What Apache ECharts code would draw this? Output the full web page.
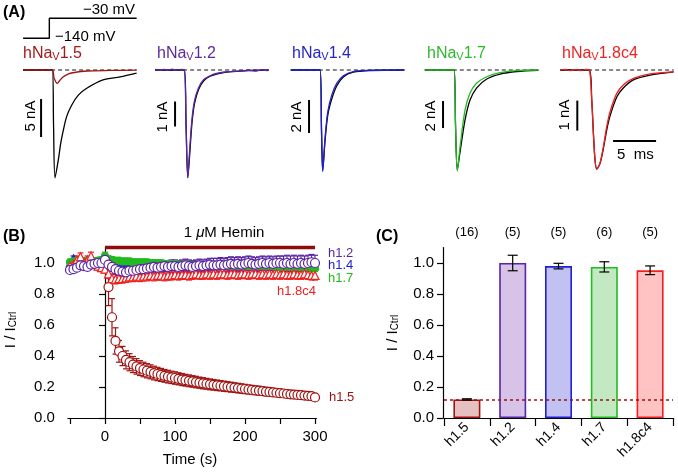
<!DOCTYPE html>
<html><head><meta charset="utf-8">
<script src="https://cdn.jsdelivr.net/npm/echarts@6/dist/echarts.min.js"></script>
<style>html,body{margin:0;padding:0;background:#fff}#c{width:678px;height:474px}</style>
</head><body><div id="c"></div>
<script>
// ================= DATA =================
// Panel A: voltage protocol (ms from step onset, mV)
const protocolTime = [-3.4, -0.35, -0.35, 9.8];
const protocolVoltage = [-140, -140, -30, -30];

// Panel A: current traces [time (ms from onset), current (nA)]
const nav15Ctrl  = [[-3.4,0],[0,0],[0.14,-7.2],[0.31,-14.2],[0.7,-11.8],[0.98,-9.6],[1.28,-7.9],[1.67,-6.1],[2.26,-4.6],[3.02,-3.3],[4.0,-2.4],[5.9,-1.3],[7.87,-0.9],[9.8,-0.4]];
const nav15Hemin = [[-3.4,0],[0,0],[0.2,-1.05],[0.58,-1.75],[0.9,-1.32],[1.28,-0.88],[1.83,-0.53],[2.41,-0.36],[4.03,-0.13],[6.7,-0.06],[9.8,-0.02]];
const nav12Ctrl  = [[-3.4,0],[0,0],[0.2,-2.2],[0.4,-4.3],[0.6,-3.5],[0.88,-2.15],[1.18,-1.35],[1.65,-0.78],[2.23,-0.44],[3.0,-0.25],[4.55,-0.1],[6.9,-0.03],[9.8,0]];
const nav12Hemin = [[-3.4,0.02],[-2.9,-0.01],[-2.4,0.02],[-1.9,0],[-1.4,0.03],[-0.9,-0.01],[-0.4,0.02],[0,0],[0.2,-2.2],[0.4,-4.31],[0.58,-3.4],[0.86,-2.07],[1.16,-1.27],[1.63,-0.73],[2.21,-0.4],[2.99,-0.23],[3.6,-0.15],[4.53,-0.09],[5.5,-0.06],[6.86,-0.03],[7.5,-0.01],[8.2,-0.04],[8.9,0.0],[9.8,-0.02]];
const nav14Ctrl  = [[-3.4,0],[0,0],[0.17,-3.6],[0.31,-6.1],[0.58,-4.3],[0.9,-2.73],[1.36,-1.76],[1.94,-0.97],[2.71,-0.42],[3.87,-0.13],[5.8,-0.03],[9.8,0]];
const nav14Hemin = [[-3.4,0],[0,0],[0.17,-3.64],[0.31,-6.16],[0.58,-4.14],[0.9,-2.53],[1.36,-1.52],[1.94,-0.81],[2.71,-0.35],[3.87,-0.1],[5.8,-0.02],[9.8,0]];
const nav17Ctrl  = [[-3.4,0],[0,0],[0.17,-4.0],[0.38,-7.4],[0.7,-6.07],[1.28,-3.7],[1.86,-2.22],[2.64,-1.33],[3.8,-0.67],[5.35,-0.3],[7.29,-0.11],[9.8,-0.02]];
const nav17Hemin = [[-3.4,0],[0,0],[0.17,-4.07],[0.38,-7.48],[0.7,-5.68],[1.28,-2.96],[1.86,-1.7],[2.64,-0.96],[3.8,-0.5],[5.35,-0.2],[7.29,-0.05],[9.8,0]];
const nav18Ctrl  = [[-3.4,0],[0,0],[0.28,-1.0],[0.47,-2.1],[0.66,-3.0],[0.86,-3.3],[1.24,-3.12],[1.63,-2.62],[2.02,-2.0],[2.41,-1.53],[3.19,-0.9],[3.95,-0.6],[5.12,-0.33],[7.06,-0.17],[9.8,-0.06]];
const nav18Hemin = [[-3.4,0],[-2.8,0.02],[-2.2,-0.02],[-1.6,0.01],[-1.0,-0.02],[-0.4,0.02],[0,0],[0.28,-1.0],[0.47,-2.1],[0.66,-3.0],[0.86,-3.31],[1.24,-3.1],[1.63,-2.56],[2.02,-1.89],[2.41,-1.39],[3.19,-0.78],[3.95,-0.5],[5.12,-0.28],[7.06,-0.13],[9.8,-0.06]];
const scaleBarNA = [5, 1, 2, 2, 1];
const timeBarMs = 5;

// Panel B: time course (s), normalized current I/Ictrl
const times = [-50,-45,-40,-35,-30,-25,-20,-15,-10,-5,0,5,10,15,20,25,30,35,40,45,50,55,60,65,70,75,80,85,90,95,100,105,110,115,120,125,130,135,140,145,150,155,160,165,170,175,180,185,190,195,200,205,210,215,220,225,230,235,240,245,250,255,260,265,270,275,280,285,290,295,300];
const h12Mean = [0.955,0.96,0.97,0.985,0.98,0.975,0.99,0.995,1.0,1.0,1.02,
 0.99,0.975,0.96,0.95,0.945,0.94,0.95,0.95,0.955,0.96,
 0.96,0.965,0.97,0.975,0.97,0.975,0.98,0.975,0.98,0.98,
 0.975,0.98,0.985,0.98,0.975,0.98,0.985,0.98,0.985,0.99,
 0.985,0.985,0.99,0.985,0.99,0.995,0.99,0.995,0.99,0.995,
 1.0,0.995,0.99,0.995,1.0,0.995,1.0,0.995,1.0,1.0,
 0.995,1.0,0.995,1.0,0.995,1.0,0.995,1.0,1.005,1.0];
const h12Err = [0.02,0.02,0.02,0.025,0.02,0.02,0.02,0.02,0.02,0.02,0.02,
 0.025,0.03,0.03,0.03,0.03,0.03,0.03,0.03,0.03,0.03,
 0.035,0.035,0.035,0.035,0.035,0.035,0.035,0.04,0.04,0.04,
 0.04,0.04,0.04,0.04,0.04,0.04,0.04,0.04,0.04,0.04,
 0.045,0.045,0.045,0.045,0.045,0.045,0.045,0.045,0.045,0.045,
 0.045,0.045,0.045,0.045,0.045,0.045,0.045,0.045,0.045,0.045,
 0.05,0.05,0.05,0.05,0.05,0.05,0.05,0.05,0.05,0.05];
const h14Mean = [1.0,1.03,1.01,1.0,1.01,1.0,1.01,1.0,1.0,1.01,1.03,
 1.0,0.99,0.985,0.98,0.98,0.98,0.985,0.98,0.985,0.985,
 0.985,0.985,0.98,0.985,0.985,0.98,0.985,0.985,0.98,0.985,
 0.985,0.98,0.985,0.985,0.98,0.985,0.985,0.98,0.985,0.985,
 0.985,0.98,0.985,0.985,0.98,0.985,0.985,0.99,0.985,0.985,
 0.985,0.99,0.985,0.985,0.99,0.985,0.985,0.99,0.985,0.99,
 0.985,0.99,0.985,0.99,0.985,0.99,0.985,0.99,0.99,0.985];
const h14Err = [0.015,0.015,0.015,0.015,0.015,0.015,0.015,0.015,0.015,0.015,0.015,
 0.02,0.02,0.02,0.02,0.02,0.02,0.02,0.02,0.02,0.02,
 0.02,0.02,0.02,0.02,0.02,0.02,0.02,0.02,0.02,0.02,
 0.02,0.02,0.02,0.02,0.02,0.02,0.02,0.02,0.02,0.02,
 0.02,0.02,0.02,0.02,0.02,0.02,0.02,0.02,0.02,0.02,
 0.02,0.02,0.02,0.02,0.02,0.02,0.02,0.02,0.02,0.02,
 0.02,0.02,0.02,0.02,0.02,0.02,0.02,0.02,0.02,0.02];
const h17Mean = [1.005,1.01,1.015,1.015,1.01,1.015,1.015,1.01,1.015,1.02,1.045,
 1.025,1.02,1.015,1.015,1.01,1.01,1.01,1.005,1.005,1.005,
 1.005,1.005,1.0,1.0,1.0,1.0,0.995,0.995,0.995,0.995,
 0.99,0.99,0.99,0.99,0.985,0.985,0.985,0.985,0.985,0.985,
 0.98,0.98,0.98,0.98,0.98,0.98,0.98,0.98,0.98,0.98,
 0.98,0.98,0.98,0.98,0.98,0.98,0.98,0.98,0.975,0.975,
 0.975,0.975,0.975,0.975,0.975,0.97,0.97,0.97,0.97,0.965];
const h17Err = [0.02,0.02,0.02,0.02,0.02,0.02,0.02,0.02,0.02,0.02,0.025,
 0.02,0.02,0.02,0.02,0.02,0.02,0.02,0.02,0.02,0.02,
 0.02,0.02,0.02,0.02,0.02,0.02,0.02,0.02,0.02,0.02,
 0.02,0.02,0.02,0.02,0.02,0.02,0.02,0.02,0.02,0.02,
 0.02,0.02,0.02,0.02,0.02,0.02,0.02,0.02,0.02,0.02,
 0.02,0.02,0.02,0.02,0.02,0.02,0.02,0.02,0.02,0.02,
 0.02,0.02,0.02,0.02,0.02,0.02,0.02,0.02,0.02,0.02];
const h18Mean = [0.98,0.99,1.02,1.04,1.0,1.02,1.045,1.0,0.98,0.97,0.96,
 0.93,0.9,0.895,0.9,0.9,0.905,0.91,0.91,0.915,0.91,
 0.915,0.915,0.92,0.915,0.92,0.92,0.915,0.92,0.92,0.925,
 0.92,0.925,0.925,0.92,0.925,0.93,0.925,0.925,0.93,0.925,
 0.93,0.925,0.93,0.93,0.925,0.93,0.93,0.925,0.93,0.93,
 0.925,0.93,0.93,0.925,0.93,0.925,0.93,0.925,0.93,0.925,
 0.93,0.925,0.925,0.93,0.925,0.925,0.93,0.925,0.92,0.92];
const h18Err = [0.02,0.02,0.025,0.025,0.025,0.025,0.025,0.025,0.025,0.025,0.025,
 0.03,0.03,0.03,0.03,0.03,0.03,0.03,0.03,0.03,0.03,
 0.03,0.03,0.03,0.03,0.03,0.03,0.03,0.03,0.03,0.03,
 0.03,0.03,0.03,0.03,0.03,0.03,0.03,0.03,0.03,0.03,
 0.03,0.03,0.03,0.03,0.03,0.03,0.03,0.03,0.03,0.03,
 0.03,0.03,0.03,0.03,0.03,0.03,0.03,0.03,0.03,0.03,
 0.03,0.03,0.03,0.03,0.03,0.03,0.03,0.03,0.03,0.03];
const h15Times = [0,5,10,15,20,25,30,35,40,45,50,55,60,65,70,75,80,85,90,95,100,105,110,115,120,125,130,135,140,145,150,155,160,165,170,175,180,185,190,195,200,205,210,215,220,225,230,235,240,245,250,255,260,265,270,275,280,285,290,295,300];
const h15Mean = [1.0,0.845,0.65,0.497,0.43,0.4,0.375,0.36,0.345,0.333,0.322,
 0.313,0.305,0.298,0.29,0.284,0.278,0.272,0.267,0.262,0.258,
 0.253,0.248,0.244,0.24,0.236,0.232,0.228,0.224,0.221,0.217,
 0.214,0.211,0.208,0.205,0.202,0.199,0.196,0.193,0.19,0.187,
 0.184,0.181,0.178,0.176,0.173,0.17,0.168,0.165,0.163,0.16,
 0.158,0.155,0.153,0.151,0.149,0.147,0.145,0.143,0.141,0.133];
const h15Err = [0,0.12,0.12,0.085,0.07,0.062,0.058,0.055,0.052,0.05,0.048,
 0.047,0.046,0.045,0.044,0.043,0.042,0.041,0.041,0.04,0.04,
 0.039,0.039,0.038,0.038,0.037,0.037,0.036,0.036,0.035,0.035,
 0.034,0.034,0.033,0.033,0.032,0.032,0.031,0.031,0.03,0.03,
 0.029,0.029,0.028,0.028,0.027,0.027,0.026,0.026,0.025,0.025,
 0.024,0.024,0.024,0.023,0.023,0.022,0.022,0.022,0.021,0.02];
const heminPeriod = [0, 300];
const bXTicks = [-50,0,50,100,150,200,250,300];
const bXLabels = [0,100,200,300];
const yTicks = [0,0.2,0.4,0.6,0.8,1.0];

// Panel C: steady-state block
const cCategories = ['h1.5','h1.2','h1.4','h1.7','h1.8c4'];
const cValues = [0.12, 1.0, 0.98, 0.975, 0.953];
const cErrors = [0.004, 0.05, 0.018, 0.033, 0.028];
const cCounts = ['(16)','(5)','(5)','(6)','(5)'];
const h15Level = 0.123;

// ================= STYLE / LAYOUT =================
const FONT = 'Liberation Sans, Arial, Helvetica, sans-serif';
const C15 = '#A01212', C12 = '#5A25A3', C14 = '#2020D2', C17 = '#22BB22', C18 = '#F02020';
const barFill = ['#E4C0C0','#D6C3E7','#C1C1F2','#C3E9C3','#FFC3C3'];
const barEdge = [C15, C12, C14, C17, C18];

const panelLeft = [23.1, 155.1, 290.8, 424.8, 560.1];
const pxPerNA = [7.6, 25, 16.5, 13.5, 30];
const tMin = -3.4, tMax = 9.8, pxPerMs = 8.6;
const panelW = (tMax - tMin) * pxPerMs;
const scaleBarPos = [[-1.31, -3.82], [-1.08, -1.26], [-1.28, -1.82], [-1.28, -2.3], [-1.4, -1.02]];
const timeBarPos = [2.76, -2.37];
const traces = [[nav15Ctrl, nav15Hemin, C15],[nav12Ctrl, nav12Hemin, C12],[nav14Ctrl, nav14Hemin, C14],[nav17Ctrl, nav17Hemin, C17],[nav18Ctrl, nav18Hemin, C18]];

const grids = [], xAxes = [], yAxes = [], series = [];
// protocol grid
grids.push({left: panelLeft[0], top: 17.4, width: panelW, height: 21.8});
xAxes.push({gridIndex: 0, type: 'value', min: tMin, max: tMax, show: false});
yAxes.push({gridIndex: 0, type: 'value', min: -145, max: -25, show: false});
series.push({type: 'line', xAxisIndex: 0, yAxisIndex: 0, symbol: 'none', silent: true,
  data: protocolTime.map((t, i) => [t, protocolVoltage[i]]), lineStyle: {color: '#000', width: 1.4}, clip: false});

for (let i = 0; i < 5; i++) {
  const g = i + 1, s = pxPerNA[i];
  grids.push({left: panelLeft[i], top: 60, width: panelW, height: 122});
  xAxes.push({gridIndex: g, type: 'value', min: tMin, max: tMax, show: false});
  yAxes.push({gridIndex: g, type: 'value', min: -112 / s, max: 10 / s, show: false});
  series.push({type: 'line', xAxisIndex: g, yAxisIndex: g, symbol: 'none', silent: true,
    data: [[tMin, 0], [tMax, 0]], lineStyle: {color: '#111', width: 1, type: [4, 3]}, z: 1});
  series.push({type: 'line', xAxisIndex: g, yAxisIndex: g, symbol: 'none', silent: true, smooth: 0.3,
    data: traces[i][0], lineStyle: {color: '#000', width: 1.3}, z: 2, clip: false});
  series.push({type: 'line', xAxisIndex: g, yAxisIndex: g, symbol: 'none', silent: true, smooth: 0.3,
    data: traces[i][1], lineStyle: {color: traces[i][2], width: 1.3}, z: 3, clip: false});
  const sb = scaleBarPos[i];
  series.push({type: 'line', xAxisIndex: g, yAxisIndex: g, symbol: 'none', silent: true,
    data: [[sb[0], sb[1]], [sb[0], sb[1] - scaleBarNA[i]]], lineStyle: {color: '#000', width: 2}, z: 3, clip: false});
  if (i === 4) {
    series.push({type: 'line', xAxisIndex: g, yAxisIndex: g, symbol: 'none', silent: true,
      data: [[timeBarPos[0], timeBarPos[1]], [timeBarPos[0] + timeBarMs, timeBarPos[1]]], lineStyle: {color: '#000', width: 2}, z: 3, clip: false});
  }
}

// Panel B
const gB = 6;
grids.push({left: 67.9, top: 247.5, width: 248.5, height: 170.5});
xAxes.push({gridIndex: gB, type: 'value', min: -53, max: 302, offset: 1,
  axisLine: {show: true, lineStyle: {color: '#000', width: 1.2}},
  axisTick: {show: true, length: 6, customValues: bXTicks, lineStyle: {color: '#000', width: 1.2}},
  axisLabel: {customValues: bXLabels, color: '#000', fontSize: 15, fontFamily: FONT, margin: 10},
  splitLine: {show: false}});
yAxes.push({gridIndex: gB, type: 'value', min: 0, max: 1.1, offset: 5,
  axisLine: {show: true, lineStyle: {color: '#000', width: 1.2}},
  axisTick: {show: true, length: 6, customValues: yTicks, lineStyle: {color: '#000', width: 1.2}},
  axisLabel: {customValues: yTicks, formatter: v => v.toFixed(1), color: '#000', fontSize: 15, fontFamily: FONT, margin: 8},
  splitLine: {show: false}});

function errRender(color, cap, lw) {
  return function (params, api) {
    const x = api.value(0), y = api.value(1), e = api.value(2);
    const hi = api.coord([x, y + e]), lo = api.coord([x, y - e]);
    const st = {stroke: color, lineWidth: lw || 1.1};
    return {type: 'group', children: [
      {type: 'line', shape: {x1: hi[0], y1: hi[1], x2: lo[0], y2: lo[1]}, style: st},
      {type: 'line', shape: {x1: hi[0] - cap, y1: hi[1], x2: hi[0] + cap, y2: hi[1]}, style: st},
      {type: 'line', shape: {x1: lo[0] - cap, y1: lo[1], x2: lo[0] + cap, y2: lo[1]}, style: st}
    ]};
  };
}
function addB(t, mean, err, color, symbol, size, fill) {
  series.push({type: 'custom', xAxisIndex: gB, yAxisIndex: gB, silent: true, clip: false,
    renderItem: errRender(color, 3, 1.2), encode: {x: 0, y: 1},
    data: t.map((v, i) => [v, mean[i], err[i]])});
  series.push({type: 'scatter', xAxisIndex: gB, yAxisIndex: gB, silent: true, clip: false,
    symbol: symbol, symbolSize: size,
    itemStyle: {color: fill, borderColor: color, borderWidth: 1.2, opacity: 1},
    data: t.map((v, i) => [v, mean[i]])});
}
addB(h15Times, h15Mean, h15Err, C15, 'circle', 9, '#fff');
addB(times, h14Mean, h14Err, C14, 'triangle', 7, C14);
addB(times, h17Mean, h17Err, C17, 'circle', 7, C17);
addB(times, h18Mean, h18Err, C18, 'triangle', 8, '#fff');
addB(times, h12Mean, h12Err, C12, 'circle', 9, '#fff');
series.push({type: 'line', xAxisIndex: gB, yAxisIndex: gB, symbol: 'none', silent: true, clip: false,
  data: [[heminPeriod[0], 1.1], [heminPeriod[1], 1.1]], lineStyle: {color: '#8E0C0C', width: 3.5}});

// Panel C
const gC = 7;
grids.push({left: 444, top: 247.5, width: 229, height: 170.5});
xAxes.push({gridIndex: gC, type: 'category', data: cCategories,
  axisLine: {show: true, lineStyle: {color: '#000', width: 1.2}},
  axisTick: {show: true, length: 8, lineStyle: {color: '#000', width: 1.2}},
  axisLabel: {rotate: 45, color: '#000', fontSize: 14, fontFamily: FONT, margin: 7}});
xAxes.push({gridIndex: gC, type: 'category', data: cCounts, position: 'top',
  axisLine: {show: false}, axisTick: {show: false},
  axisLabel: {color: '#000', fontSize: 13, fontFamily: FONT, margin: 9}});
yAxes.push({gridIndex: gC, type: 'value', min: 0, max: 1.1, offset: 1,
  axisLine: {show: true, lineStyle: {color: '#000', width: 1.2}},
  axisTick: {show: true, length: 6, customValues: yTicks, lineStyle: {color: '#000', width: 1.2}},
  axisLabel: {customValues: yTicks, formatter: v => v.toFixed(1), color: '#000', fontSize: 15, fontFamily: FONT, margin: 9},
  splitLine: {show: false}});
series.push({type: 'bar', xAxisIndex: 7, yAxisIndex: gC, barWidth: 27, silent: true,
  data: cValues.map((v, i) => ({value: v, itemStyle: {color: barFill[i], borderColor: barEdge[i], borderWidth: 1.6}})),
  markLine: {silent: true, symbol: ['none', 'none'], label: {show: false},
    lineStyle: {color: C15, type: [3, 3], width: 1.5}, data: [{yAxis: h15Level}]}});
series.push({type: 'custom', xAxisIndex: 7, yAxisIndex: gC, silent: true, clip: false,
  renderItem: errRender('#000', 5, 1.2), encode: {x: 0, y: 1},
  data: cValues.map((v, i) => [i, v, cErrors[i]]), z: 5});

// ================= TEXT =================
function txt(x, y, text, opt) {
  opt = opt || {};
  return {type: 'text', x: x, y: y, rotation: opt.rot || 0, silent: true, z: 100,
    style: {text: text, fill: opt.color || '#000', fontSize: opt.size || 15, fontFamily: FONT,
      fontWeight: opt.bold ? 'bold' : 'normal', align: opt.align || 'left', verticalAlign: 'middle',
      rich: opt.rich}};
}
function subRich(color, size, subSize) {
  return {
    n: {fill: color, fontSize: size, fontFamily: FONT, lineHeight: size, verticalAlign: 'top'},
    s: {fill: color, fontSize: subSize, fontFamily: FONT, lineHeight: subSize, verticalAlign: 'bottom', padding: [7, 0, 0, 0]},
    i: {fill: color, fontSize: size, fontFamily: FONT, fontStyle: 'italic', lineHeight: size, verticalAlign: 'top'}
  };
}
const chanNames = ['1.5', '1.2', '1.4', '1.7', '1.8c4'];
const chanColors = ['#A31A1A', '#5B2A9E', '#2525C8', '#2DB82D', '#EE2222'];
const graphic = [
  txt(3, 13, '(A)', {bold: true, size: 16}),
  txt(83, 10, '\u221230 mV'),
  txt(55, 37, '\u2212140 mV'),
  txt(617, 155, '5  ms'),
  txt(3, 237, '(B)', {bold: true, size: 16}),
  txt(376, 237, '(C)', {bold: true, size: 16}),
  txt(224, 233, '{n|1 }{i|\u03bc}{n|M Hemin}', {align: 'center', rich: subRich('#000', 15, 10)}),
  txt(190, 460, 'Time (s)', {align: 'center'}),
  txt(328, 253, 'h1.2', {color: C12, size: 13}),
  txt(328, 265, 'h1.4', {color: C14, size: 13}),
  txt(328, 278, 'h1.7', {color: C17, size: 13}),
  txt(277, 291, 'h1.8c4', {color: C18, size: 13}),
  txt(329, 397, 'h1.5', {color: C15, size: 13}),
  txt(11, 330, '{n|I / I}{s|Ctrl}', {rot: Math.PI / 2, align: 'center', rich: subRich('#000', 15, 10)}),
  txt(393, 333, '{n|I / I}{s|Ctrl}', {rot: Math.PI / 2, align: 'center', rich: subRich('#000', 15, 10)})
];
const chanX = [23, 157, 292, 427, 562];
for (let i = 0; i < 5; i++) {
  graphic.push(txt(chanX[i], 54, '{n|hNa}{s|V}{n|' + chanNames[i] + '}', {rich: subRich(chanColors[i], 16, 11)}));
}
const sbLabelPos = [[31, 116], [163, 117], [297, 117], [431, 116], [565, 115]];
for (let i = 0; i < 5; i++) {
  graphic.push(txt(sbLabelPos[i][0], sbLabelPos[i][1], scaleBarNA[i] + ' nA', {rot: Math.PI / 2, align: 'center'}));
}

const chart = echarts.init(document.getElementById('c'), null, {renderer: 'canvas'});
chart.setOption({
  animation: false,
  backgroundColor: '#fff',
  textStyle: {fontFamily: FONT},
  grid: grids, xAxis: xAxes, yAxis: yAxes, series: series, graphic: graphic
});
</script>
</body></html>
